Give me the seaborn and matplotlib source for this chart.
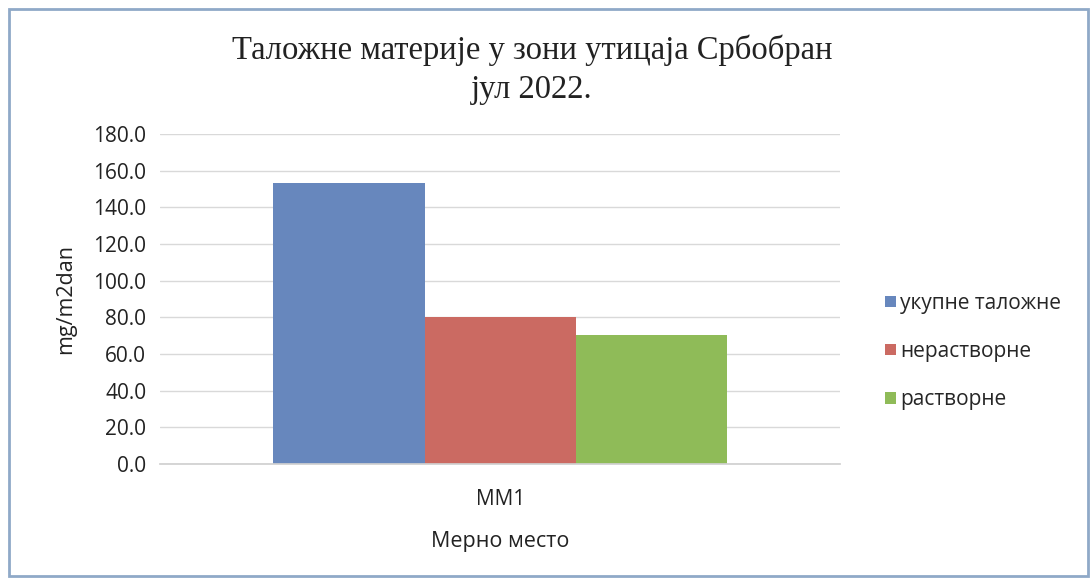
import matplotlib
matplotlib.use("Agg")
import matplotlib.pyplot as plt
import seaborn as sns
import pandas as pd
from matplotlib.patches import Rectangle

categories = ["MM1"]
series = ["укупне таложне", "нерастворне", "растворне"]
values = [153.5, 80.3, 70.3]
colors = ["#6787bd", "#cb6a62", "#8fbb58"]
yticks = [0, 20, 40, 60, 80, 100, 120, 140, 160, 180]

df = pd.DataFrame({"place": categories * len(series), "series": series, "value": values})

sns.set_theme(style="white")
plt.rcParams["font.family"] = ["Open Sans", "DejaVu Sans"]

fig = plt.figure(figsize=(10.9, 5.79), dpi=100)
ax = fig.add_axes([0.147, 0.1986, 0.624, 0.57])

sns.barplot(data=df, x="place", y="value", hue="series", palette=colors,
            width=0.667, saturation=1, ax=ax, legend=False)
for p in ax.patches:
    p.set_edgecolor("none")

ax.set_ylim(0, 180)
ax.set_xlim(-0.5, 0.5)
ax.set_yticks(yticks)
ax.set_yticklabels([f"{v:.1f}" for v in yticks], fontsize=15, color="#222222")
ax.set_xticks([0])
ax.set_xticklabels(categories, fontsize=15, color="#222222")
ax.tick_params(axis="y", length=0, pad=10)
ax.tick_params(axis="x", length=0, pad=18)
ax.yaxis.grid(True, color="#d9d9d9", linewidth=1)
ax.set_axisbelow(True)
for s in ["top", "right", "left"]:
    ax.spines[s].set_visible(False)
ax.spines["bottom"].set_color("#d0d0d0")
ax.set_ylabel("mg/m2dan", fontsize=15.5, color="#222222", labelpad=12)
ax.set_xlabel("Мерно место", fontsize=15.5, color="#222222", labelpad=15)

fig.text(0.488, 0.880, "Таложне материје у зони утицаја Србобран\nјул 2022.",
         ha="center", va="center", fontsize=23.5, family=["Liberation Serif"],
         color="#222222", linespacing=1.35)

# legend
handles = [Rectangle((0, 0), 1, 1, facecolor=c, edgecolor="none") for c in colors]
fig.legend(handles, series, loc="center left", bbox_to_anchor=(0.795, 0.393),
           frameon=False, fontsize=15, handlelength=0.5, handleheight=0.5,
           handletextpad=0.2, labelspacing=1.3)

# frame
fig.patches.append(Rectangle((0.008, 0.005), 0.99, 0.98, transform=fig.transFigure,
                             fill=False, edgecolor="#8fa9c8", linewidth=2))

fig.savefig("out.png", dpi=100)
